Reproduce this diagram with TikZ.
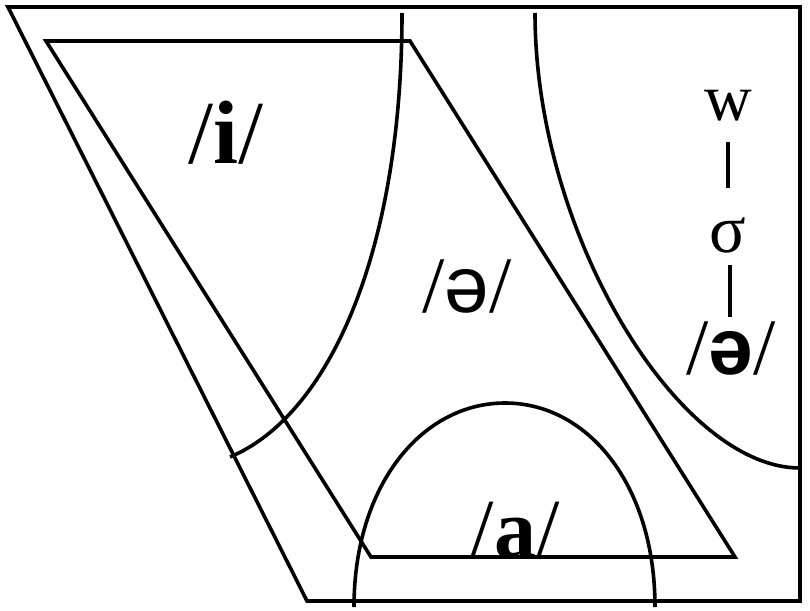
\documentclass[tikz,border=0pt]{standalone}
\usepackage{fontspec}
\setmainfont{Liberation Serif}
\newfontfamily\schwafont{Liberation Sans}
\newcommand{\schwa}{{\schwafont ə}}

\begin{document}
\begin{tikzpicture}[x=1pt,y=-1pt,line width=3.6pt]
\useasboundingbox (0,0) rectangle (810,610);
% frame and vowel space
\draw (307,601) -- (8,7) -- (800,7) -- (800,601) -- cycle;
\draw (46,41) -- (410,41) -- (735,557) -- (371,557) -- cycle;
% the three regions
\draw (402,13) .. controls (402,250) and (330,415) .. (230,457);
\draw (535,13) .. controls (535,233) and (678,468) .. (800,468);
\draw (354,607) .. controls (354,485) and (422,403) .. (505,403)
  .. controls (588,403) and (655,485) .. (655,607);
% vowel labels
\node[font=\fontsize{90}{90}\selectfont, anchor=base] (hi) at (226,163) {/\textbf{i}/};
\node[font=\fontsize{80}{80}\selectfont, anchor=base] (mid) at (467,312) {/\schwa/};
\node[font=\fontsize{84}{84}\selectfont, anchor=base] (lo) at (515,557) {/\textbf{a}/};
% weak syllable
\node[font=\fontsize{66}{66}\selectfont, anchor=base, inner sep=0pt] (w) at (728,120) {w};
\node[font=\fontsize{68}{68}\selectfont, anchor=base, inner sep=0pt] (sigma) at (728,252) {σ};
\node[font=\fontsize{80}{80}\selectfont, anchor=base, inner sep=0pt] (weak) at (731,374) {/\textbf{\schwa}/};
\draw[shorten <=20pt, shorten >=27pt] (w.south) -- (sigma.north);
\draw[shorten <=11pt, shorten >=2pt] ([xshift=2pt]sigma.south) -- ([xshift=-1pt]weak.north);
\end{tikzpicture}
\end{document}
